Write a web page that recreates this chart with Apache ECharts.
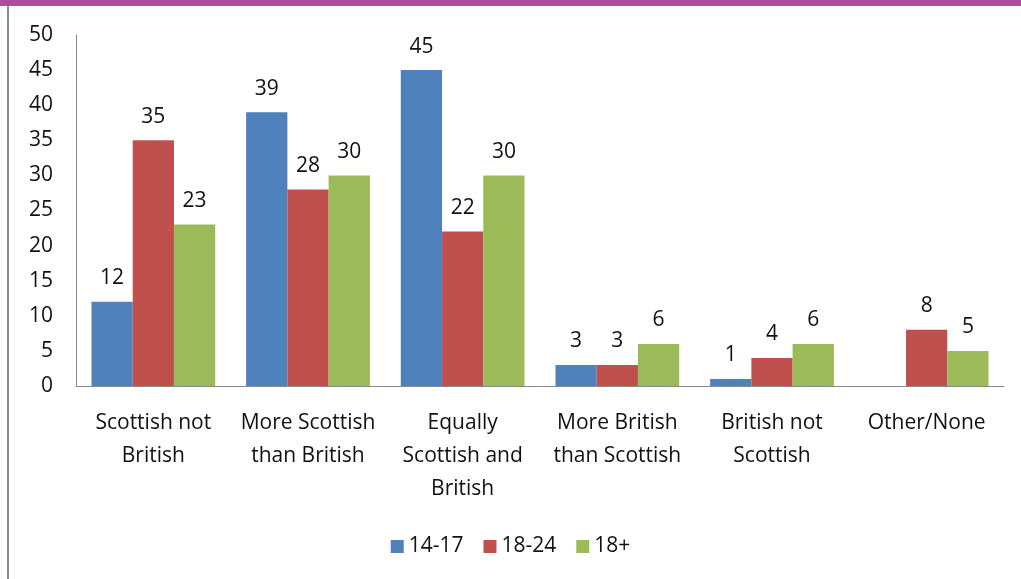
<!DOCTYPE html>
<html><head><meta charset="utf-8">
<script src="https://cdn.jsdelivr.net/npm/echarts@6/dist/echarts.min.js"></script>
<style>html,body{margin:0;padding:0;background:#fff}#c{width:1021px;height:579px}</style>
</head><body><div id="c"></div>
<script>
const categories = ['Scottish not\nBritish', 'More Scottish\nthan British', 'Equally\nScottish and\nBritish', 'More British\nthan Scottish', 'British not\nScottish', 'Other/None'];
const seriesNames = ['14-17', '18-24', '18+'];
const values1417 = [12, 39, 45, 3, 1, null];
const values1824 = [35, 28, 22, 3, 4, 8];
const values18plus = [23, 30, 30, 6, 6, 5];
const colors = ['#4f81bd', '#c0504d', '#9bbb59'];
const font = 'Open Sans';
const fs = 21;

const chart = echarts.init(document.getElementById('c'));
const mk = (name, data, color) => ({
  name, type: 'bar', data, barGap: '0%', barCategoryGap: '20%',
  itemStyle: { color },
  label: { show: true, position: 'top', distance: 13, color: '#111', fontSize: fs, fontFamily: font }
});
chart.setOption({
  animation: false,
  graphic: [
    { type: 'rect', shape: { x: 0, y: 0, width: 1021, height: 6 }, style: { fill: '#b04a9e' } },
    { type: 'rect', shape: { x: 7, y: 6, width: 2, height: 573 }, style: { fill: '#8c8c8c' } }
  ],
  grid: { left: 76, right: 17, top: 35, bottom: 193 },
  legend: {
    bottom: 17, left: 'center', itemWidth: 13, itemHeight: 13, itemGap: 20, icon: 'rect',
    textStyle: { fontSize: fs, fontFamily: font, color: '#111' },
    data: seriesNames
  },
  xAxis: {
    type: 'category', data: categories,
    axisLine: { lineStyle: { color: '#888', width: 1 } },
    axisTick: { show: false },
    axisLabel: { interval: 0, margin: 21, fontSize: fs, fontFamily: font, color: '#111', lineHeight: 33 }
  },
  yAxis: {
    type: 'value', min: 0, max: 50, interval: 5,
    splitLine: { show: false },
    axisLine: { show: true, lineStyle: { color: '#888', width: 1 } },
    axisTick: { show: false },
    axisLabel: { margin: 23, fontSize: fs, fontFamily: font, color: '#111' }
  },
  series: [mk(seriesNames[0], values1417, colors[0]), mk(seriesNames[1], values1824, colors[1]), mk(seriesNames[2], values18plus, colors[2])]
});
</script></body></html>
